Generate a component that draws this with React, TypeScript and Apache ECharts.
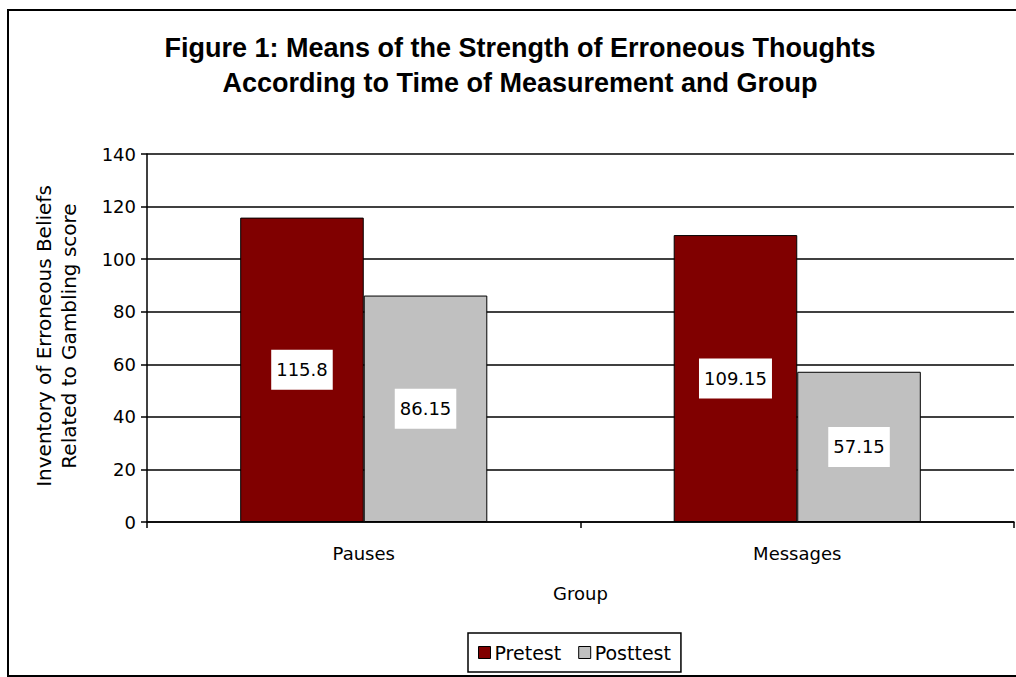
import React, { useEffect, useRef } from "react";
import * as echarts from "echarts";

const categories = ["Pauses", "Messages"];
const pretest = [115.8, 109.15];
const posttest = [86.15, 57.15];
const yTicks = { min: 0, max: 140, interval: 20 };
const titleLines = [
  "Figure 1: Means of the Strength of Erroneous Thoughts",
  "According to Time of Measurement and Group",
];
const yName = "Inventory of Erroneous Beliefs\nRelated to Gambling score";
const xName = "Group";

const FONT = "'DejaVu Sans', Verdana, sans-serif";
const TFONT = "'Liberation Sans', Arial, sans-serif";

export default function App() {
  const ref = useRef<HTMLDivElement>(null);
  useEffect(() => {
    if (!ref.current) return;
    const chart = echarts.init(ref.current, null, { renderer: "svg" });
    const label = {
      show: true,
      position: "inside",
      color: "#000",
      backgroundColor: "#fff",
      padding: [10, 5],
      lineHeight: 20,
      fontSize: 18,
      fontFamily: FONT,
    };
    chart.setOption({
      animation: false,
      backgroundColor: "#fff",
      title: {
        text: titleLines.join("\n"),
        left: 515,
        top: 25,
        textAlign: "center",
        textStyle: {
          fontSize: 27,
          fontWeight: "bold",
          fontFamily: TFONT,
          color: "#000",
          lineHeight: 35,
        },
      },
      graphic: [
        {
          type: "rect",
          shape: { x: 8, y: 10, width: 1020, height: 666 },
          style: { fill: "none", stroke: "#000", lineWidth: 2 },
          silent: true,
        },
        {
          type: "text",
          x: 56,
          y: 336,
          rotation: Math.PI / 2,
          style: {
            text: yName,
            fontSize: 20,
            fontFamily: FONT,
            fill: "#000",
            align: "center",
            verticalAlign: "middle",
            lineHeight: 25,
          },
        },
      ],
      legend: {
        left: 468,
        top: 633,
        padding: [10, 10],
        borderColor: "#000",
        borderWidth: 1.5,
        itemGap: 17,
        itemWidth: 12,
        itemHeight: 12,
        icon: "rect",
        textStyle: { fontSize: 19, fontFamily: FONT, color: "#000", padding: [0, 0, 0, -1] },
        data: [
          { name: "Pretest", itemStyle: { borderColor: "#000", borderWidth: 1 } },
          { name: "Posttest", itemStyle: { borderColor: "#000", borderWidth: 1 } },
        ],
      },
      grid: { left: 147, top: 154, right: 2, bottom: 155, containLabel: false },
      xAxis: {
        type: "category",
        data: categories,
        name: xName,
        nameLocation: "middle",
        nameGap: 62,
        nameTextStyle: { fontSize: 18, fontFamily: FONT, color: "#000" },
        axisLine: { lineStyle: { color: "#000", width: 1.5 } },
        axisTick: { show: true, length: 6, lineStyle: { color: "#000", width: 1.5 } },
        axisLabel: { fontSize: 18, fontFamily: FONT, color: "#000", margin: 22 },
      },
      yAxis: {
        type: "value",
        min: yTicks.min,
        max: yTicks.max,
        interval: yTicks.interval,
        axisLine: { show: true, lineStyle: { color: "#000", width: 1.5 } },
        axisTick: { show: true, length: 6, lineStyle: { color: "#000", width: 1.5 } },
        axisLabel: { fontSize: 18, fontFamily: FONT, color: "#000", margin: 11 },
        splitLine: { lineStyle: { color: "#000", width: 1.5 } },
      },
      series: [
        {
          name: "Pretest",
          type: "bar",
          data: pretest,
          barGap: "0%",
          barCategoryGap: "43%",
          itemStyle: { color: "#800000", borderColor: "#000", borderWidth: 1 },
          label,
        },
        {
          name: "Posttest",
          type: "bar",
          data: posttest,
          itemStyle: { color: "#C0C0C0", borderColor: "#000", borderWidth: 1 },
          label,
        },
      ],
    });
    return () => chart.dispose();
  }, []);
  return (
    <div
      ref={ref}
      style={{ position: "fixed", left: 0, top: 0, width: 1016, height: 677 }}
    />
  );
}
